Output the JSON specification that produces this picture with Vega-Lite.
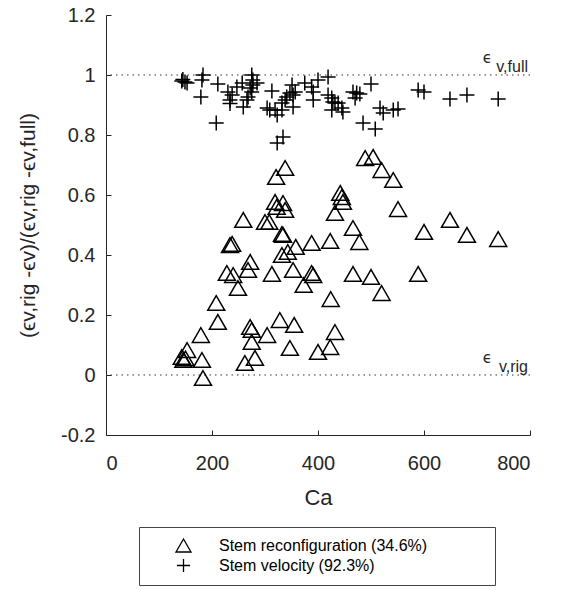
{
  "$schema": "https://vega.github.io/schema/vega-lite/v6.json",
  "autosize": "none",
  "width": 424,
  "height": 420,
  "padding": {"left": 106, "top": 15, "right": 32, "bottom": 155},
  "background": "white",
  "config": {
    "view": {"stroke": null},
    "font": "Liberation Sans",
    "axis": {
      "grid": false,
      "domainColor": "#262626",
      "tickColor": "#262626",
      "labelColor": "#262626",
      "titleColor": "#262626",
      "labelFont": "Liberation Sans",
      "titleFont": "Liberation Sans",
      "titleFontWeight": "normal",
      "labelFontSize": 20,
      "tickSize": -5,
      "domainWidth": 1,
      "tickWidth": 1
    }
  },
  "datasets": {
    "points": [
      {"Ca": 143, "v": 0.06, "series": "Stem reconfiguration (34.6%)"},
      {"Ca": 146, "v": 0.05, "series": "Stem reconfiguration (34.6%)"},
      {"Ca": 150, "v": 0.055, "series": "Stem reconfiguration (34.6%)"},
      {"Ca": 153, "v": 0.083, "series": "Stem reconfiguration (34.6%)"},
      {"Ca": 179, "v": 0.133, "series": "Stem reconfiguration (34.6%)"},
      {"Ca": 181, "v": 0.05, "series": "Stem reconfiguration (34.6%)"},
      {"Ca": 183, "v": -0.01, "series": "Stem reconfiguration (34.6%)"},
      {"Ca": 208, "v": 0.24, "series": "Stem reconfiguration (34.6%)"},
      {"Ca": 211, "v": 0.177, "series": "Stem reconfiguration (34.6%)"},
      {"Ca": 228, "v": 0.34, "series": "Stem reconfiguration (34.6%)"},
      {"Ca": 234, "v": 0.433, "series": "Stem reconfiguration (34.6%)"},
      {"Ca": 238, "v": 0.437, "series": "Stem reconfiguration (34.6%)"},
      {"Ca": 240, "v": 0.333, "series": "Stem reconfiguration (34.6%)"},
      {"Ca": 249, "v": 0.29, "series": "Stem reconfiguration (34.6%)"},
      {"Ca": 259, "v": 0.517, "series": "Stem reconfiguration (34.6%)"},
      {"Ca": 262, "v": 0.04, "series": "Stem reconfiguration (34.6%)"},
      {"Ca": 268, "v": 0.35, "series": "Stem reconfiguration (34.6%)"},
      {"Ca": 272, "v": 0.377, "series": "Stem reconfiguration (34.6%)"},
      {"Ca": 272, "v": 0.16, "series": "Stem reconfiguration (34.6%)"},
      {"Ca": 275, "v": 0.15, "series": "Stem reconfiguration (34.6%)"},
      {"Ca": 275, "v": 0.11, "series": "Stem reconfiguration (34.6%)"},
      {"Ca": 281, "v": 0.057, "series": "Stem reconfiguration (34.6%)"},
      {"Ca": 300, "v": 0.51, "series": "Stem reconfiguration (34.6%)"},
      {"Ca": 308, "v": 0.51, "series": "Stem reconfiguration (34.6%)"},
      {"Ca": 304, "v": 0.133, "series": "Stem reconfiguration (34.6%)"},
      {"Ca": 313, "v": 0.337, "series": "Stem reconfiguration (34.6%)"},
      {"Ca": 319, "v": 0.577, "series": "Stem reconfiguration (34.6%)"},
      {"Ca": 322, "v": 0.56, "series": "Stem reconfiguration (34.6%)"},
      {"Ca": 321, "v": 0.66, "series": "Stem reconfiguration (34.6%)"},
      {"Ca": 328, "v": 0.183, "series": "Stem reconfiguration (34.6%)"},
      {"Ca": 332, "v": 0.47, "series": "Stem reconfiguration (34.6%)"},
      {"Ca": 332, "v": 0.4, "series": "Stem reconfiguration (34.6%)"},
      {"Ca": 334, "v": 0.573, "series": "Stem reconfiguration (34.6%)"},
      {"Ca": 334, "v": 0.467, "series": "Stem reconfiguration (34.6%)"},
      {"Ca": 338, "v": 0.55, "series": "Stem reconfiguration (34.6%)"},
      {"Ca": 338, "v": 0.69, "series": "Stem reconfiguration (34.6%)"},
      {"Ca": 343, "v": 0.41, "series": "Stem reconfiguration (34.6%)"},
      {"Ca": 347, "v": 0.09, "series": "Stem reconfiguration (34.6%)"},
      {"Ca": 353, "v": 0.35, "series": "Stem reconfiguration (34.6%)"},
      {"Ca": 355, "v": 0.167, "series": "Stem reconfiguration (34.6%)"},
      {"Ca": 358, "v": 0.427, "series": "Stem reconfiguration (34.6%)"},
      {"Ca": 373, "v": 0.3, "series": "Stem reconfiguration (34.6%)"},
      {"Ca": 388, "v": 0.44, "series": "Stem reconfiguration (34.6%)"},
      {"Ca": 388, "v": 0.34, "series": "Stem reconfiguration (34.6%)"},
      {"Ca": 391, "v": 0.333, "series": "Stem reconfiguration (34.6%)"},
      {"Ca": 400, "v": 0.077, "series": "Stem reconfiguration (34.6%)"},
      {"Ca": 423, "v": 0.093, "series": "Stem reconfiguration (34.6%)"},
      {"Ca": 423, "v": 0.447, "series": "Stem reconfiguration (34.6%)"},
      {"Ca": 424, "v": 0.253, "series": "Stem reconfiguration (34.6%)"},
      {"Ca": 432, "v": 0.143, "series": "Stem reconfiguration (34.6%)"},
      {"Ca": 432, "v": 0.54, "series": "Stem reconfiguration (34.6%)"},
      {"Ca": 442, "v": 0.607, "series": "Stem reconfiguration (34.6%)"},
      {"Ca": 445, "v": 0.593, "series": "Stem reconfiguration (34.6%)"},
      {"Ca": 447, "v": 0.577, "series": "Stem reconfiguration (34.6%)"},
      {"Ca": 466, "v": 0.49, "series": "Stem reconfiguration (34.6%)"},
      {"Ca": 466, "v": 0.337, "series": "Stem reconfiguration (34.6%)"},
      {"Ca": 478, "v": 0.443, "series": "Stem reconfiguration (34.6%)"},
      {"Ca": 489, "v": 0.723, "series": "Stem reconfiguration (34.6%)"},
      {"Ca": 500, "v": 0.327, "series": "Stem reconfiguration (34.6%)"},
      {"Ca": 504, "v": 0.727, "series": "Stem reconfiguration (34.6%)"},
      {"Ca": 520, "v": 0.683, "series": "Stem reconfiguration (34.6%)"},
      {"Ca": 520, "v": 0.273, "series": "Stem reconfiguration (34.6%)"},
      {"Ca": 542, "v": 0.65, "series": "Stem reconfiguration (34.6%)"},
      {"Ca": 551, "v": 0.553, "series": "Stem reconfiguration (34.6%)"},
      {"Ca": 589, "v": 0.337, "series": "Stem reconfiguration (34.6%)"},
      {"Ca": 600, "v": 0.477, "series": "Stem reconfiguration (34.6%)"},
      {"Ca": 649, "v": 0.517, "series": "Stem reconfiguration (34.6%)"},
      {"Ca": 681, "v": 0.467, "series": "Stem reconfiguration (34.6%)"},
      {"Ca": 740, "v": 0.453, "series": "Stem reconfiguration (34.6%)"},
      {"Ca": 143, "v": 0.98, "series": "Stem velocity (92.3%)"},
      {"Ca": 145, "v": 0.985, "series": "Stem velocity (92.3%)"},
      {"Ca": 149, "v": 0.977, "series": "Stem velocity (92.3%)"},
      {"Ca": 153, "v": 0.973, "series": "Stem velocity (92.3%)"},
      {"Ca": 179, "v": 0.927, "series": "Stem velocity (92.3%)"},
      {"Ca": 181, "v": 0.983, "series": "Stem velocity (92.3%)"},
      {"Ca": 183, "v": 1.0, "series": "Stem velocity (92.3%)"},
      {"Ca": 208, "v": 0.84, "series": "Stem velocity (92.3%)"},
      {"Ca": 211, "v": 0.97, "series": "Stem velocity (92.3%)"},
      {"Ca": 230, "v": 0.943, "series": "Stem velocity (92.3%)"},
      {"Ca": 234, "v": 0.917, "series": "Stem velocity (92.3%)"},
      {"Ca": 234, "v": 0.905, "series": "Stem velocity (92.3%)"},
      {"Ca": 238, "v": 0.933, "series": "Stem velocity (92.3%)"},
      {"Ca": 247, "v": 0.96, "series": "Stem velocity (92.3%)"},
      {"Ca": 257, "v": 0.973, "series": "Stem velocity (92.3%)"},
      {"Ca": 259, "v": 0.893, "series": "Stem velocity (92.3%)"},
      {"Ca": 266, "v": 0.917, "series": "Stem velocity (92.3%)"},
      {"Ca": 268, "v": 0.927, "series": "Stem velocity (92.3%)"},
      {"Ca": 272, "v": 0.957, "series": "Stem velocity (92.3%)"},
      {"Ca": 275, "v": 1.0, "series": "Stem velocity (92.3%)"},
      {"Ca": 275, "v": 0.943, "series": "Stem velocity (92.3%)"},
      {"Ca": 277, "v": 0.983, "series": "Stem velocity (92.3%)"},
      {"Ca": 277, "v": 0.967, "series": "Stem velocity (92.3%)"},
      {"Ca": 285, "v": 0.973, "series": "Stem velocity (92.3%)"},
      {"Ca": 304, "v": 0.89, "series": "Stem velocity (92.3%)"},
      {"Ca": 309, "v": 0.883, "series": "Stem velocity (92.3%)"},
      {"Ca": 313, "v": 0.947, "series": "Stem velocity (92.3%)"},
      {"Ca": 319, "v": 0.883, "series": "Stem velocity (92.3%)"},
      {"Ca": 323, "v": 0.867, "series": "Stem velocity (92.3%)"},
      {"Ca": 323, "v": 0.773, "series": "Stem velocity (92.3%)"},
      {"Ca": 332, "v": 0.883, "series": "Stem velocity (92.3%)"},
      {"Ca": 332, "v": 0.907, "series": "Stem velocity (92.3%)"},
      {"Ca": 334, "v": 0.793, "series": "Stem velocity (92.3%)"},
      {"Ca": 338, "v": 0.917, "series": "Stem velocity (92.3%)"},
      {"Ca": 341, "v": 0.927, "series": "Stem velocity (92.3%)"},
      {"Ca": 347, "v": 0.94, "series": "Stem velocity (92.3%)"},
      {"Ca": 351, "v": 0.967, "series": "Stem velocity (92.3%)"},
      {"Ca": 353, "v": 0.933, "series": "Stem velocity (92.3%)"},
      {"Ca": 353, "v": 0.893, "series": "Stem velocity (92.3%)"},
      {"Ca": 357, "v": 0.943, "series": "Stem velocity (92.3%)"},
      {"Ca": 375, "v": 0.973, "series": "Stem velocity (92.3%)"},
      {"Ca": 388, "v": 0.96, "series": "Stem velocity (92.3%)"},
      {"Ca": 391, "v": 0.943, "series": "Stem velocity (92.3%)"},
      {"Ca": 391, "v": 0.917, "series": "Stem velocity (92.3%)"},
      {"Ca": 400, "v": 0.983, "series": "Stem velocity (92.3%)"},
      {"Ca": 419, "v": 0.993, "series": "Stem velocity (92.3%)"},
      {"Ca": 419, "v": 0.933, "series": "Stem velocity (92.3%)"},
      {"Ca": 426, "v": 0.923, "series": "Stem velocity (92.3%)"},
      {"Ca": 426, "v": 0.883, "series": "Stem velocity (92.3%)"},
      {"Ca": 428, "v": 0.91, "series": "Stem velocity (92.3%)"},
      {"Ca": 432, "v": 0.907, "series": "Stem velocity (92.3%)"},
      {"Ca": 438, "v": 0.907, "series": "Stem velocity (92.3%)"},
      {"Ca": 445, "v": 0.89, "series": "Stem velocity (92.3%)"},
      {"Ca": 447, "v": 0.877, "series": "Stem velocity (92.3%)"},
      {"Ca": 466, "v": 0.943, "series": "Stem velocity (92.3%)"},
      {"Ca": 470, "v": 0.923, "series": "Stem velocity (92.3%)"},
      {"Ca": 473, "v": 0.94, "series": "Stem velocity (92.3%)"},
      {"Ca": 479, "v": 0.937, "series": "Stem velocity (92.3%)"},
      {"Ca": 485, "v": 0.84, "series": "Stem velocity (92.3%)"},
      {"Ca": 500, "v": 0.97, "series": "Stem velocity (92.3%)"},
      {"Ca": 508, "v": 0.82, "series": "Stem velocity (92.3%)"},
      {"Ca": 517, "v": 0.89, "series": "Stem velocity (92.3%)"},
      {"Ca": 523, "v": 0.873, "series": "Stem velocity (92.3%)"},
      {"Ca": 542, "v": 0.883, "series": "Stem velocity (92.3%)"},
      {"Ca": 551, "v": 0.887, "series": "Stem velocity (92.3%)"},
      {"Ca": 589, "v": 0.95, "series": "Stem velocity (92.3%)"},
      {"Ca": 600, "v": 0.943, "series": "Stem velocity (92.3%)"},
      {"Ca": 649, "v": 0.92, "series": "Stem velocity (92.3%)"},
      {"Ca": 681, "v": 0.933, "series": "Stem velocity (92.3%)"},
      {"Ca": 740, "v": 0.92, "series": "Stem velocity (92.3%)"}
    ],
    "refs": [
      {"Ca": 800, "v": 1, "sub": "v,full"},
      {"Ca": 800, "v": 0, "sub": "v,rig"}
    ]
  },
  "layer": [
    {
      "data": {"name": "refs"},
      "mark": {"type": "rule", "color": "#333333", "strokeDash": [1.5, 4], "strokeWidth": 1},
      "encoding": {
        "y": {"field": "v", "type": "quantitative", "scale": {"domain": [-0.2, 1.2], "nice": false}}
      }
    },
    {
      "data": {"name": "points"},
      "mark": {"type": "point", "filled": false, "color": "black", "strokeWidth": 1.5, "size": 289, "opacity": 1},
      "encoding": {
        "x": {
          "field": "Ca", "type": "quantitative",
          "scale": {"domain": [0, 800], "nice": false},
          "axis": {"values": [0, 200, 400, 600, 800], "title": "Ca", "titleFontSize": 22, "labelPadding": 23, "titleY": 62, "titleBaseline": "middle"}
        },
        "y": {
          "field": "v", "type": "quantitative",
          "scale": {"domain": [-0.2, 1.2], "nice": false},
          "axis": {
            "values": [-0.2, 0, 0.2, 0.4, 0.6, 0.8, 1, 1.2],
            "labelExpr": "datum.value < 0 ? '-' + format(-datum.value, '~g') : format(datum.value, '~g')",
            "title": "(ϵv,rig -ϵv)/(ϵv,rig -ϵv,full)",
            "titleFontSize": 21,
            "labelPadding": 16,
            "titleX": -78,
            "titleBaseline": "middle"
          }
        },
        "shape": {
          "field": "series", "type": "nominal",
          "scale": {
            "domain": ["Stem reconfiguration (34.6%)", "Stem velocity (92.3%)"],
            "range": ["triangle-up", "M-0.88,0H0.88M0,-0.88V0.88"]
          },
          "legend": {
            "title": null,
            "orient": "none",
            "legendX": 33,
            "legendY": 512,
            "direction": "vertical",
            "strokeColor": "#444444",
            "padding": 10,
            "symbolSize": 225,
            "symbolStrokeWidth": 1.3,
            "symbolStrokeColor": "black",
            "symbolOffset": 26,
            "labelOffset": 27,
            "labelFont": "Liberation Sans",
            "labelFontSize": 16,
            "labelColor": "black",
            "labelLimit": 500,
            "rowPadding": 1,
            "labelExpr": "datum.label + '\u00a0\u00a0\u00a0\u00a0\u00a0\u00a0\u00a0\u00a0\u00a0\u00a0\u00a0\u00a0\u00a0\u200b'"
          }
        }
      }
    },
    {
      "data": {"name": "refs"},
      "mark": {"type": "text", "align": "right", "baseline": "bottom", "dx": -2, "fontSize": 16, "font": "Liberation Sans", "color": "#262626"},
      "encoding": {
        "x": {"field": "Ca", "type": "quantitative"},
        "y": {"field": "v", "type": "quantitative"},
        "text": {"field": "sub"}
      }
    },
    {
      "data": {"name": "refs"},
      "mark": {"type": "text", "text": "ϵ", "align": "right", "baseline": "alphabetic", "dx": -38, "dy": -12, "fontSize": 15, "font": "DejaVu Sans", "color": "#262626"},
      "encoding": {
        "x": {"field": "Ca", "type": "quantitative"},
        "y": {"field": "v", "type": "quantitative"}
      }
    }
  ]
}
